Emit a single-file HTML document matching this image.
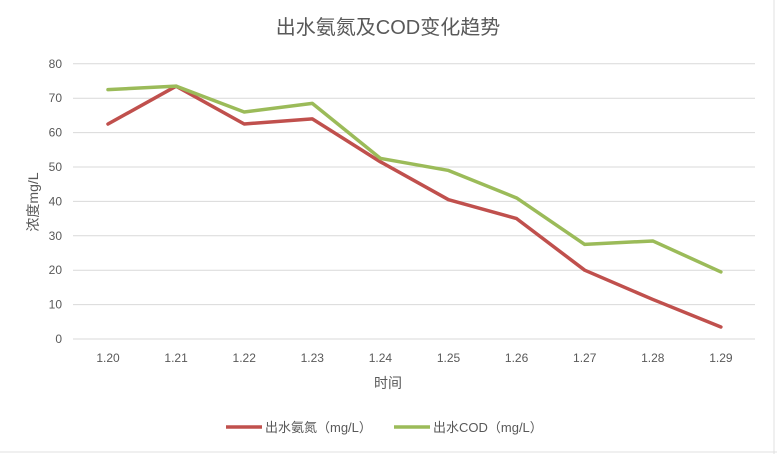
<!DOCTYPE html>
<html><head><meta charset="utf-8"><style>
body{margin:0;background:#fff;}
svg{display:block;font-family:"Liberation Sans","Noto Sans CJK SC",sans-serif;}
</style></head><body>
<svg id="c" width="777" height="454">
<rect x="0" y="0" width="777" height="454" fill="#fff"/>
<line x1="774" y1="0" x2="774" y2="454" stroke="#e0e0e0"/>
<line x1="0" y1="452" x2="777" y2="452" stroke="#e0e0e0"/>
<text x="388" y="34" text-anchor="middle" font-size="20" fill="#595959">出水氨氮及COD变化趋势</text>
<g id="grid"></g><g id="ylab"></g><g id="xlab"></g><g id="series"></g>
<text x="388" y="388" text-anchor="middle" font-size="14" fill="#595959">时间</text>
<text transform="translate(38,202) rotate(-90)" text-anchor="middle" font-size="14" fill="#595959">浓度mg/L</text>
<g>
<line x1="226" y1="427" x2="262" y2="427" stroke="#c0504d" stroke-width="3.5"/>
<text x="265" y="432" font-size="13" fill="#595959">出水氨氮（mg/L）</text>
<line x1="394" y1="427" x2="430" y2="427" stroke="#9bbb59" stroke-width="3.5"/>
<text x="433" y="432" font-size="13" fill="#595959">出水COD（mg/L）</text>
</g>
</svg>
<script>
const categories=["1.20","1.21","1.22","1.23","1.24","1.25","1.26","1.27","1.28","1.29"];
const nh3n=[62.5,73.5,62.5,64,51.5,40.5,35,20,11.5,3.5];
const cod=[72.5,73.5,66,68.5,52.5,49,41,27.5,28.5,19.5];
const yTicks=[0,10,20,30,40,50,60,70,80];
const NS="http://www.w3.org/2000/svg";
const x=i=>108+i*68.1;
const y=v=>339-v*3.44;
function mk(t,a,p){const e=document.createElementNS(NS,t);for(const k in a)e.setAttribute(k,a[k]);p.appendChild(e);return e;}
const grid=document.getElementById('grid'),yl=document.getElementById('ylab'),xl=document.getElementById('xlab'),sg=document.getElementById('series');
yTicks.forEach(v=>{
const l=mk('line',{x1:73,x2:755,y1:y(v),y2:y(v),stroke:'#d9d9d9','stroke-width':1},grid);


const t=mk('text',{x:62,y:y(v)+4,'text-anchor':'end','font-size':12,fill:'#595959'},yl);
t.textContent=v;


});
categories.forEach((c,i)=>{
const t=mk('text',{x:x(i),y:362,'text-anchor':'middle','font-size':12,fill:'#595959'},xl);
t.textContent=c;


});
[[nh3n,'#c0504d','line-nh3n'],[cod,'#9bbb59','line-cod']].forEach(([d,col,n])=>{
const p=mk('polyline',{points:d.map((v,i)=>x(i)+','+y(v)).join(' '),fill:'none',stroke:col,'stroke-width':3.5,'stroke-linejoin':'round','stroke-linecap':'round'},sg);


});
</script>
</body></html>
